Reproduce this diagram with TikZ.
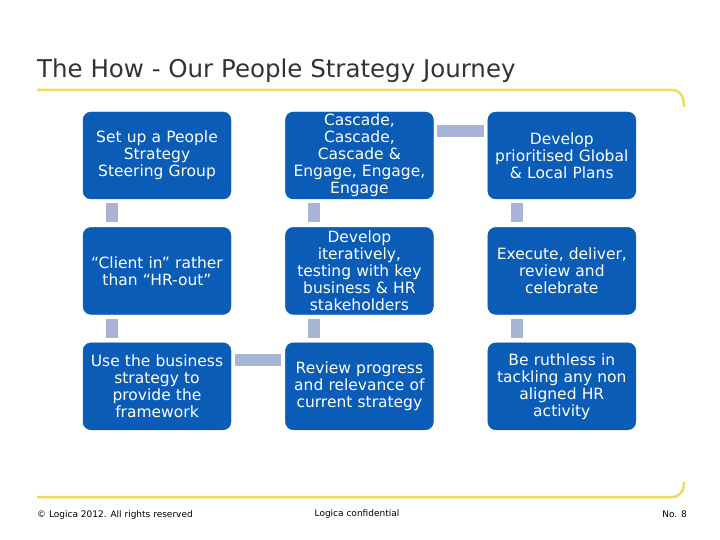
\documentclass[tikz,border=0pt]{standalone}
\usepackage{fontspec}
\setmainfont{DejaVu Sans}
\usepackage{xcolor}
\usetikzlibrary{positioning}
\definecolor{boxblue}{RGB}{10,92,182}
\definecolor{stubgrey}{RGB}{168,180,214}
\definecolor{rulegold}{RGB}{240,218,90}
\definecolor{titlegrey}{RGB}{51,51,51}
\tikzset{
    stage/.style={draw=boxblue, fill=boxblue, rounded corners=8bp, align=center,
                  text=white, font=\fontsize{15.5bp}{17bp}\selectfont,
                  minimum width=148bp, minimum height=87bp, text width=146bp, inner sep=1bp},
    stub/.style={draw=stubgrey, line width=12bp},
    goldrule/.style={draw=rulegold, line width=2.5bp},
    foot/.style={font=\fontsize{9bp}{11bp}\selectfont, text=black, inner sep=0pt},
}

\begin{document}
\begin{tikzpicture}[x=1bp, y=-1bp, node distance=28bp and 54bp]
    \useasboundingbox (0,0) rectangle (720,540);
    % title and rules
    \node[anchor=base west, inner sep=0pt, text=titlegrey,
          font=\fontsize{24.5bp}{28bp}\selectfont] (title) at (37,78) {The How - Our People Strategy Journey};
    \draw[goldrule] (37,90) -- (672,90) .. controls (680,90) and (684,96) .. (684,107);
    \draw[goldrule] (37,497) -- (672,497) .. controls (680,497) and (684,491) .. (684,482);

    % grid of stages
    \node[stage] (steer) at (157,155.5) {Set up a People\\Strategy\\Steering Group};
    \node[stage, right=of steer] (cascade) {Cascade,\\Cascade,\\Cascade \&\\Engage, Engage,\\Engage};
    \node[stage, right=of cascade] (plans) {Develop\\prioritised Global\\\& Local Plans};
    \node[stage, below=of steer] (client) {“Client in” rather\\than “HR-out”};
    \node[stage, below=of cascade] (iter) {Develop\\iteratively,\\testing with key\\business \& HR\\stakeholders};
    \node[stage, below=of plans] (exec) {Execute, deliver,\\review and\\celebrate};
    \node[stage, below=of client] (business) {Use the business\\strategy to\\provide the\\framework};
    \node[stage, below=of iter] (review) {Review progress\\and relevance of\\current strategy};
    \node[stage, below=of exec] (ruthless) {Be ruthless in\\tackling any non\\aligned HR\\activity};

    % stubs between stages
    \foreach \a/\b in {steer/client, client/business, cascade/iter, iter/review, plans/exec, exec/ruthless}
        \draw[stub, shorten <=4bp, shorten >=5bp] ([xshift=-45bp]\a.south) -- ([xshift=-45bp]\b.north);
    \draw[stub, shorten <=3bp, shorten >=4bp] ([yshift=24bp]cascade.east) -- ([yshift=24bp]plans.west);
    \draw[stub, shorten <=4bp, shorten >=4bp] ([yshift=26bp]business.east) -- ([yshift=26bp]review.west);

    % footer
    \node[foot, anchor=base west] (copy) at (37,517) {© Logica 2012. All rights reserved};
    \node[foot, anchor=base] (conf) at (357,516) {Logica confidential};
    \node[foot, anchor=base east] (pageno) at (687,517) {No. 8};
\end{tikzpicture}
\end{document}
